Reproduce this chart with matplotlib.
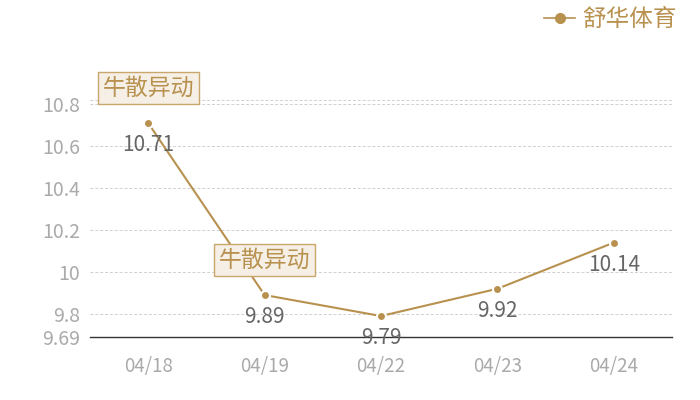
import matplotlib.pyplot as plt
from matplotlib.lines import Line2D

plt.rcParams['font.family'] = ['Noto Sans CJK SC', 'DejaVu Sans']

dates = ['04/18', '04/19', '04/22', '04/23', '04/24']
prices = [10.71, 9.89, 9.79, 9.92, 10.14]
labels = ['10.71', '9.89', '9.79', '9.92', '10.14']
yticks = [9.69, 9.8, 10, 10.2, 10.4, 10.6, 10.8]
ytick_labels = ['9.69', '9.8', '10', '10.2', '10.4', '10.6', '10.8']
events = {0: '牛散异动', 1: '牛散异动'}
series_name = '舒华体育'

gold = '#b8914f'

fig = plt.figure(figsize=(7, 4), dpi=100)
ax = fig.add_axes([90 / 700, 1 - 337 / 400, 582 / 700, 237 / 400])

x = list(range(len(dates)))
ax.plot(x, prices, color=gold, lw=1.5, marker='o', ms=6.5,
        mfc=gold, mec='white', mew=1.5, zorder=3)

ax.set_xlim(-0.5, len(dates) - 0.5)
ax.set_ylim(9.69, 10.82)

# grid
for v in yticks[1:] + [10.82]:
    ax.axhline(v, color='#d0d0d0', lw=0.7, ls=(0, (3, 2)), zorder=1)

ax.set_yticks(yticks)
ax.set_yticklabels(ytick_labels)
ax.set_xticks(x)
ax.set_xticklabels(dates)
ax.tick_params(axis='y', length=0, labelsize=14, colors='#aaaaaa', pad=7)
ax.tick_params(axis='x', length=0, labelsize=13.5, colors='#aaaaaa', pad=14)

for s in ['top', 'right', 'left']:
    ax.spines[s].set_visible(False)
ax.spines['bottom'].set_color('#333333')
ax.spines['bottom'].set_linewidth(1)

# value labels under points
for i, (v, t) in enumerate(zip(prices, labels)):
    ax.annotate(t, (i, v), xytext=(0, -22), textcoords='offset pixels',
                ha='center', va='center', fontsize=15, color='#666666', zorder=5)

# event tags above points
for i, t in events.items():
    ax.annotate(t, (i, prices[i]), xytext=(0, 35), textcoords='offset pixels',
                ha='center', va='center', fontsize=16.5, color=gold, zorder=6,
                bbox=dict(boxstyle='square,pad=0.2', fc='#f5efe6', ec='#c9a66b', lw=1))

# legend at top right
handle = Line2D([], [], color=gold, lw=1.2, marker='o', ms=7, mfc=gold, mec=gold)
fig.legend([handle], [series_name], loc='upper right', bbox_to_anchor=(0.997, 1.032),
           frameon=False, fontsize=17, labelcolor=gold, handlelength=1.3,
           handletextpad=0.3)

fig.savefig('out.png', dpi=100)
